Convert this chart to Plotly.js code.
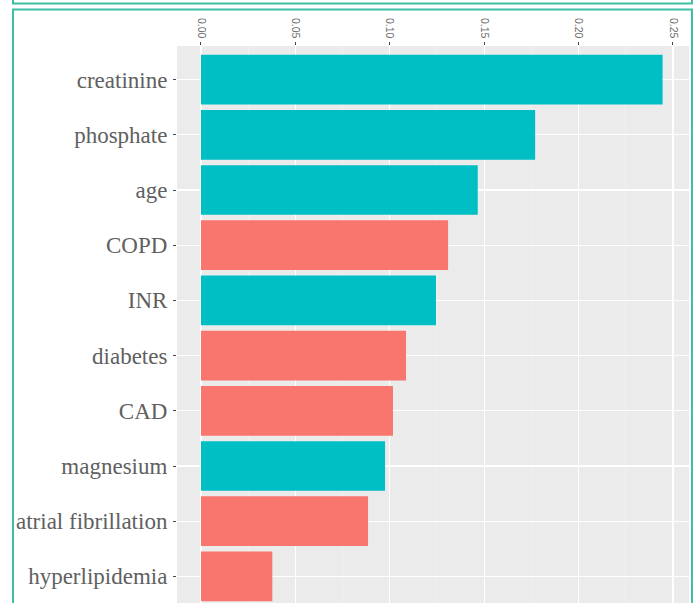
<!DOCTYPE html>
<html>
<head>
<meta charset="utf-8">
<script src="https://cdn.plot.ly/plotly-3.0.1.min.js"></script>
<style>
  html, body { margin: 0; padding: 0; background: #ffffff; }
  #chart { width: 696px; height: 603px; }
</style>
</head>
<body>
<div id="chart"></div>
<script>
// Features, top to bottom
const features = ["creatinine", "phosphate", "age", "COPD", "INR", "diabetes", "CAD", "magnesium", "atrial fibrillation", "hyperlipidemia"];
// Importance values
const importance = [0.2445, 0.1770, 0.1466, 0.1309, 0.1245, 0.1086, 0.1017, 0.0975, 0.0885, 0.0378];
// Group of each feature (decides the bar colour)
const groups = ["lab", "lab", "lab", "comorbidity", "lab", "comorbidity", "comorbidity", "lab", "comorbidity", "comorbidity"];
// X tick values and labels
const xTickVals = [0, 0.05, 0.10, 0.15, 0.20, 0.25];
const xTickText = ["0.00", "0.05", "0.10", "0.15", "0.20", "0.25"];

const groupColors = { lab: "#00BFC4", comorbidity: "#F8766D" };

const W = 696, H = 603;
const mL = 177, mR = 7, mT = 46, mB = 0;
const plotW = W - mL - mR, plotH = H - mT - mB;
const px = v => (v - mL) / plotW;
const py = v => (H - mB - v) / plotH;

const frameColor = "#3cbfa2";

const trace = {
  type: "bar",
  orientation: "h",
  x: importance,
  y: features,
  width: 0.9,
  marker: { color: groups.map(g => groupColors[g]), line: { width: 0 } },
  hoverinfo: "x+y",
  showlegend: false
};

const layout = {
  width: W,
  height: H,
  margin: { l: mL, r: mR, t: mT, b: mB, pad: 0 },
  paper_bgcolor: "#ffffff",
  plot_bgcolor: "#EBEBEB",
  showlegend: false,
  bargap: 0.1,
  xaxis: {
    side: "top",
    range: [-0.0127, 0.2585],
    tickvals: xTickVals,
    ticktext: xTickText,
    tickangle: 90,
    ticks: "outside",
    ticklen: 3,
    tickwidth: 1,
    tickcolor: "#444",
    tickfont: { family: "Liberation Sans, Arial, sans-serif", size: 10.5, color: "#6a6a6a" },
    showgrid: true,
    gridcolor: "#ffffff",
    gridwidth: 1.3,
    minor: { dtick: 0.025, tick0: 0.025, showgrid: true, gridcolor: "#f4f4f4", gridwidth: 0.7 },
    zeroline: false,
    showline: false,
    fixedrange: true
  },
  yaxis: {
    type: "category",
    categoryorder: "array",
    categoryarray: features,
    range: [9.482, -0.609],
    ticks: "outside",
    ticklen: 3,
    tickwidth: 1,
    tickcolor: "#444",
    ticklabelstandoff: 1,
    tickfont: { family: "Liberation Serif, Times New Roman, serif", size: 23, color: "#606060" },
    showgrid: true,
    gridcolor: "#ffffff",
    gridwidth: 1.3,
    zeroline: false,
    showline: false,
    fixedrange: true
  },
  shapes: [
    { type: "rect", xref: "paper", yref: "paper", x0: px(13), x1: px(692), y0: py(-10), y1: py(3.5),
      line: { color: frameColor, width: 2 }, fillcolor: "rgba(0,0,0,0)", layer: "above" },
    { type: "rect", xref: "paper", yref: "paper", x0: px(13), x1: px(692), y0: py(620), y1: py(9.5),
      line: { color: frameColor, width: 2 }, fillcolor: "rgba(0,0,0,0)", layer: "above" }
  ]
};

Plotly.newPlot("chart", [trace], layout, { displayModeBar: false, staticPlot: true });
</script>
</body>
</html>
